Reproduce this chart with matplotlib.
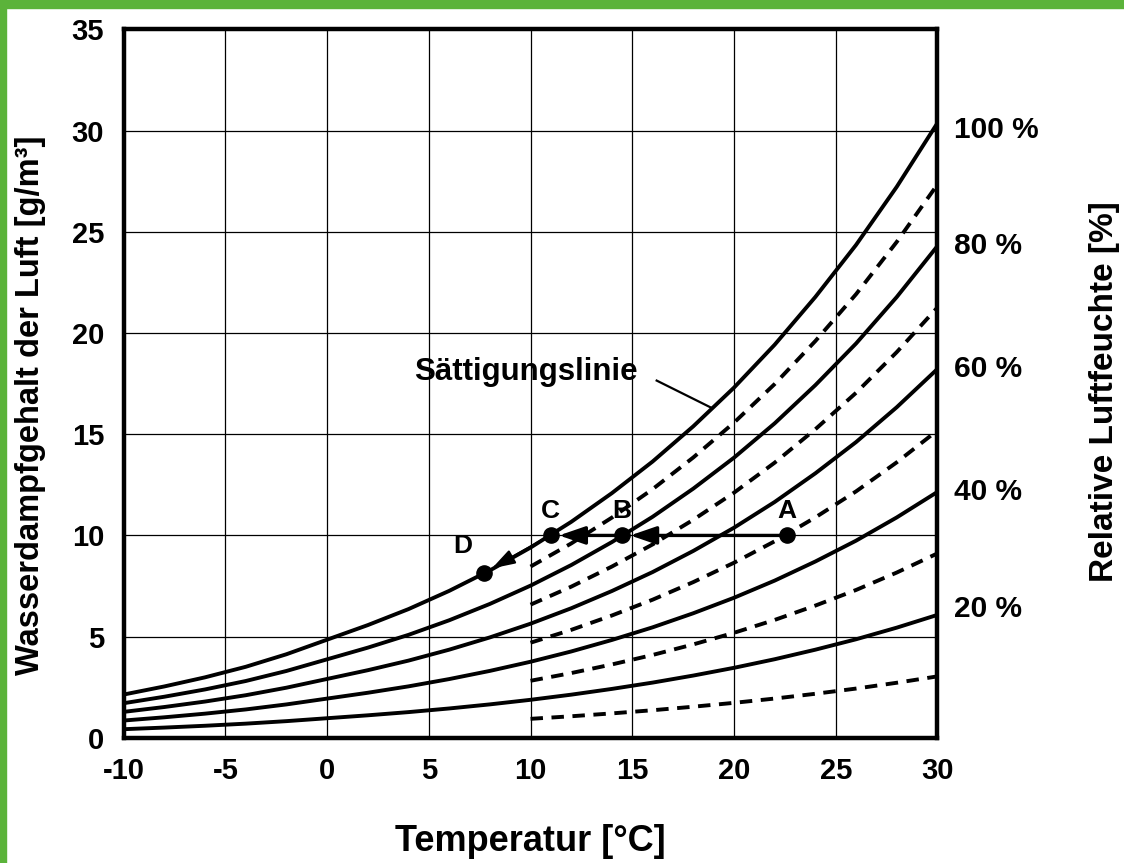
import matplotlib.pyplot as plt
import numpy as np
from matplotlib.patches import Rectangle

# saturation water vapour content (g/m3)
temps = [-10, -8, -6, -4, -2, 0, 2, 4, 6, 8, 10, 12, 14, 16, 18, 20, 22, 24, 26, 28, 30]
sat = [2.14, 2.54, 2.99, 3.51, 4.13, 4.85, 5.57, 6.36, 7.26, 8.27, 9.40,
       10.67, 12.09, 13.65, 15.39, 17.30, 19.42, 21.78, 24.35, 27.22, 30.37]

solid_rh = [1.0, 0.8, 0.6, 0.4, 0.2]
dashed_rh = [0.9, 0.7, 0.5, 0.3, 0.1]
rh_labels = ['100 %', '80 %', '60 %', '40 %', '20 %']

pt_names = ['A', 'B', 'C', 'D']
pt_x = [22.6, 14.5, 11.0, 7.7]
pt_y = [10.0, 10.0, 10.0, 8.15]

xticks = [-10, -5, 0, 5, 10, 15, 20, 25, 30]
yticks = [0, 5, 10, 15, 20, 25, 30, 35]

plt.rcParams['font.family'] = ['Liberation Sans', 'DejaVu Sans']
plt.rcParams['font.weight'] = 'bold'
plt.rcParams['axes.unicode_minus'] = False

fig = plt.figure(figsize=(11.24, 8.63), dpi=100)
ax = fig.add_axes([0.110, 0.145, 0.724, 0.821])

# green frame on top and left
fig.patches.append(Rectangle((0, 0.991), 1, 0.009, transform=fig.transFigure, color='#5bb33a', zorder=10))
fig.patches.append(Rectangle((0, 0), 0.005, 1, transform=fig.transFigure, color='#5bb33a', zorder=10))

t = np.array(temps)
s = np.array(sat)
for rh in solid_rh:
    ax.plot(t, rh * s, color='black', lw=2.8, solid_capstyle='butt', zorder=3)
mask = t >= 10
for rh in dashed_rh:
    ax.plot(t[mask], rh * s[mask], color='black', lw=2.8, ls=(0, (3.2, 2.2)), zorder=3)

ax.set_xlim(-10, 30)
ax.set_ylim(0, 35)
ax.set_xticks(xticks)
ax.set_yticks(yticks)
ax.grid(True, color='black', lw=0.9)
ax.tick_params(length=0, labelsize=21, pad=14)
for lab in ax.get_xticklabels() + ax.get_yticklabels():
    lab.set_fontweight('bold')
for sp in ax.spines.values():
    sp.set_linewidth(3.2)
    sp.set_zorder(5)

ax.set_xlabel('Temperatur [°C]', fontsize=26, fontweight='bold')
ax.set_ylabel('Wasserdampfgehalt der Luft [g/m³]', fontsize=23.5, fontweight='bold')
ax.xaxis.set_label_coords(0.5, -0.121)
ax.yaxis.set_label_coords(-0.096, 0.47)

# right side labels
for rh, lab in zip(solid_rh, rh_labels):
    yy = rh * sat[-1]
    if rh > 0.9:
        yy -= 0.35
    if rh < 0.3:
        yy += 0.3
    ax.text(30.8, yy, lab, fontsize=21.5, fontweight='bold', va='center', ha='left')
fig.text(0.983, 0.546, 'Relative Luftfeuchte [%]', rotation=90, fontsize=24,
         fontweight='bold', ha='center', va='center')

# Sättigungslinie annotation
ax.text(9.75, 18.06, 'Sättigungslinie', fontsize=22.5, fontweight='bold', ha='center', va='center')
ax.plot([16.2, 18.9], [17.65, 16.3], color='black', lw=1.6, zorder=4)

# points and arrows
ax.scatter(pt_x, pt_y, s=120, color='black', zorder=6)
for name, x, y in zip(pt_names, pt_x, pt_y):
    if name == 'D':
        ax.text(x - 0.55, y + 0.75, name, fontsize=19, fontweight='bold',
                ha='right', va='bottom', zorder=6)
    else:
        ax.text(x, y + 0.6, name, fontsize=19, fontweight='bold',
                ha='center', va='bottom', zorder=6)
for i in range(2):
    ax.annotate('', xy=(pt_x[i + 1] + 0.4, pt_y[i + 1]), xytext=(pt_x[i] - 0.3, pt_y[i]),
                arrowprops=dict(arrowstyle='-|>,head_length=1.6,head_width=0.55', lw=2.4,
                                color='black', shrinkA=0, shrinkB=0), zorder=6)
ax.annotate('', xy=(pt_x[3] + 0.4, pt_y[3] + 0.22), xytext=(pt_x[2] - 0.3, pt_y[2] - 0.15),
            arrowprops=dict(arrowstyle='-|>,head_length=1.4,head_width=0.45', lw=1.6,
                            color='black', shrinkA=0, shrinkB=0), zorder=6)

fig.savefig('out.png', dpi=100, facecolor='white')
